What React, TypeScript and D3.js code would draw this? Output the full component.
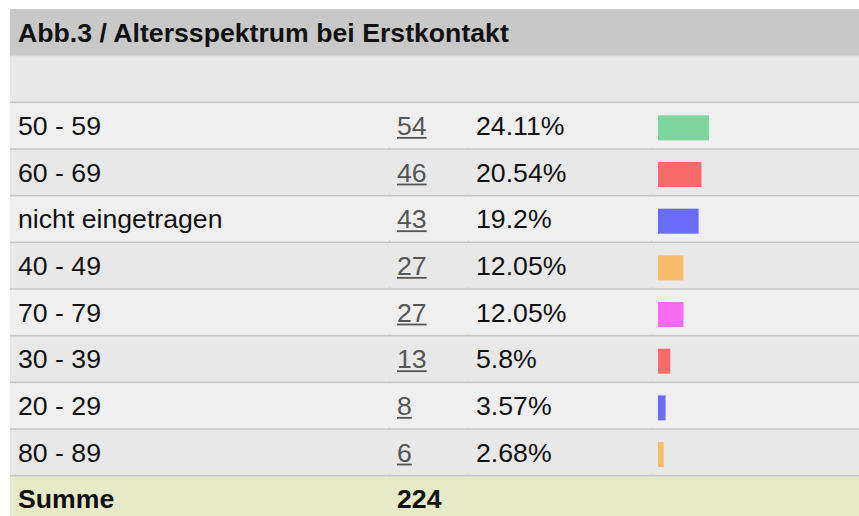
import React from "react";
import * as d3 from "d3";

const title = "Abb.3 / Altersspektrum bei Erstkontakt";
const categories = ["50 - 59", "60 - 69", "nicht eingetragen", "40 - 49", "70 - 79", "30 - 39", "20 - 29", "80 - 89"];
const counts = [54, 46, 43, 27, 27, 13, 8, 6];
const percents = ["24.11%", "20.54%", "19.2%", "12.05%", "12.05%", "5.8%", "3.57%", "2.68%"];
const barColors = ["#7dd69b", "#f96b6b", "#6b6bf9", "#f8bd6b", "#f76bf1", "#f96b6b", "#6b6bf9", "#f8bd6b"];
const totalLabel = "Summe";
const total = 224;

const W = 859;
const H = 516;
const FONT = "'Liberation Sans', Arial, sans-serif";
const FS = 26.67;
const ROW = 46.67;
const LEFT = 10;
const TOP = 9;
const COL_LABEL = 18;
const COL_COUNT = 397;
const COL_PCT = 476;
const COL_BAR = 658;
const DIGIT = 0.556 * FS;

export default function App() {
  const bodyTop = TOP + 2 * ROW;
  const y = d3
    .scaleBand<string>()
    .domain(categories)
    .range([bodyTop, bodyTop + categories.length * ROW])
    .paddingInner(0)
    .paddingOuter(0);
  const x = d3.scaleLinear().domain([0, d3.max(counts) as number]).range([0, 51]);
  const sumTop = bodyTop + categories.length * ROW;
  const tickXs = [389, 468, 651];

  return (
    <svg
      width={W}
      height={H}
      style={{ position: "absolute", left: 0, top: 0, background: "#ffffff" }}
      fontFamily={FONT}
    >
      {/* title bar */}
      <rect x={LEFT} y={TOP} width={W - LEFT} height={ROW} fill="#c8c8c8" />
      <text x={COL_LABEL} y={TOP + 33.3} fontSize={FS} fontWeight="bold" fill="#111">
        {title}
      </text>
      {/* empty header row */}
      <rect x={LEFT} y={TOP + ROW} width={W - LEFT} height={ROW} fill="#e8e8e8" />
      <rect x={LEFT} y={TOP + ROW - 0.5} width={W - LEFT} height={1} fill="#cfcfcf" />

      {categories.map((c, i) => {
        const top = y(c) as number;
        const fill = i % 2 === 0 ? "#efefef" : "#e8e8e8";
        const cnt = String(counts[i]);
        return (
          <g key={c}>
            <rect x={LEFT} y={top} width={W - LEFT} height={ROW} fill={fill} />
            <rect x={LEFT} y={top - 0.8} width={W - LEFT} height={1.6} fill="#c8c8c8" />
            <text x={COL_LABEL} y={top + 32.7} fontSize={FS} fill="#111">
              {c}
            </text>
            <text x={COL_COUNT} y={top + 32.7} fontSize={FS} fill="#555">
              {cnt}
            </text>
            <rect x={COL_COUNT} y={top + 34.6} width={cnt.length * DIGIT} height={1.8} fill="#555" />
            <text x={COL_PCT} y={top + 32.7} fontSize={FS} fill="#111">
              {percents[i]}
            </text>
            <rect x={COL_BAR} y={top + 13} width={x(counts[i])} height={25} fill={barColors[i]} />
            {tickXs.map((tx) => (
              <rect key={tx} x={tx} y={top + ROW - 2} width={1} height={2.5} fill="#d0d0d0" />
            ))}
          </g>
        );
      })}

      {/* sum row */}
      <rect x={LEFT} y={sumTop} width={W - LEFT} height={ROW} fill="#e6eac8" />
      <rect x={LEFT} y={sumTop - 0.8} width={W - LEFT} height={1.6} fill="#c8c8c8" />
      <text x={COL_LABEL} y={sumTop + 32.7} fontSize={FS} fontWeight="bold" fill="#111">
        {totalLabel}
      </text>
      <text x={COL_COUNT} y={sumTop + 32.7} fontSize={FS} fontWeight="bold" fill="#111">
        {total}
      </text>
    </svg>
  );
}
